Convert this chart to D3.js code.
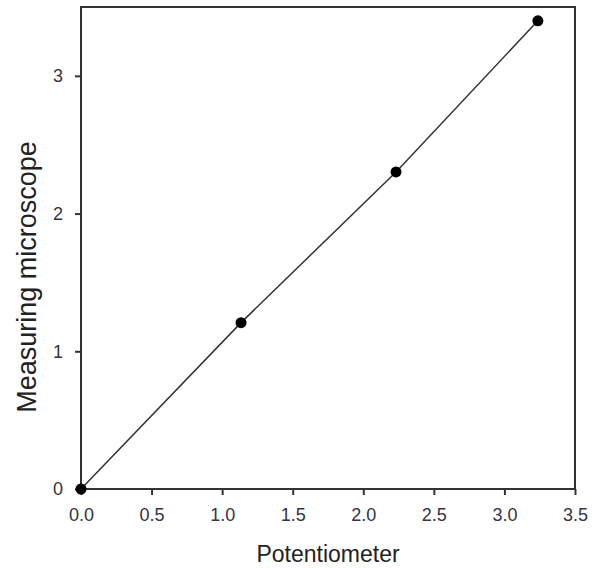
<!DOCTYPE html>
<html><head><meta charset="utf-8">
<script src="https://cdn.jsdelivr.net/npm/d3@7"></script>
<style>html,body{margin:0;padding:0;background:#fff;}</style>
</head><body>
<svg id="c" width="598" height="568"></svg>
<script>
const potentiometer = [0, 1.134, 2.232, 3.237];
const microscope = [0, 1.208, 2.302, 3.40];
const xTicks = [0, 0.5, 1.0, 1.5, 2.0, 2.5, 3.0, 3.5];
const yTicks = [0, 1, 2, 3];
const xLabel = "Potentiometer";
const yLabel = "Measuring microscope";

const svg = d3.select("#c");
const L = 81, R = 575, T = 7, B = 489;
const x = d3.scaleLinear().domain([0, 3.5]).range([L, R]);
const y = d3.scaleLinear().domain([0, 3.5]).range([B, T]);
const axisColor = "#333";
const font = "Liberation Sans, Arial, sans-serif";

const xa = svg.append("g").attr("transform", `translate(0,${B})`)
  .call(d3.axisBottom(x).tickValues(xTicks).tickFormat(d3.format(".1f")).tickSize(6).tickPadding(13));
const ya = svg.append("g").attr("transform", `translate(${L},0)`)
  .call(d3.axisLeft(y).tickValues(yTicks).tickFormat(d3.format("d")).tickSize(6).tickPadding(12));
[xa, ya].forEach(a => {
  a.select(".domain").remove();
  a.selectAll("line").attr("stroke", axisColor).attr("stroke-width", 2);
  a.selectAll("text").attr("fill", "#333344").style("font-family", font).style("font-size", "18px");
});

svg.append("rect").attr("x", L).attr("y", T).attr("width", R - L).attr("height", B - T)
  .attr("fill", "none").attr("stroke", axisColor).attr("stroke-width", 2);

const pts = potentiometer.map((v, i) => [v, microscope[i]]);
svg.append("path").datum(pts)
  .attr("d", d3.line().x(d => x(d[0])).y(d => y(d[1])))
  .attr("fill", "none").attr("stroke", "#333").attr("stroke-width", 1.5);
svg.selectAll("circle.pt").data(pts).enter().append("circle")
  .attr("class", "pt").attr("cx", d => x(d[0])).attr("cy", d => y(d[1]))
  .attr("r", 5.5).attr("fill", "#000");

svg.append("text").attr("x", (L + R) / 2).attr("y", 562).attr("text-anchor", "middle")
  .style("font-family", font).style("font-size", "23px").attr("fill", "#222").text(xLabel);
svg.append("text").attr("transform", `translate(36,277) rotate(-90)`).attr("text-anchor", "middle")
  .style("font-family", font).style("font-size", "27px").attr("fill", "#222").text(yLabel);
</script>
</body></html>
